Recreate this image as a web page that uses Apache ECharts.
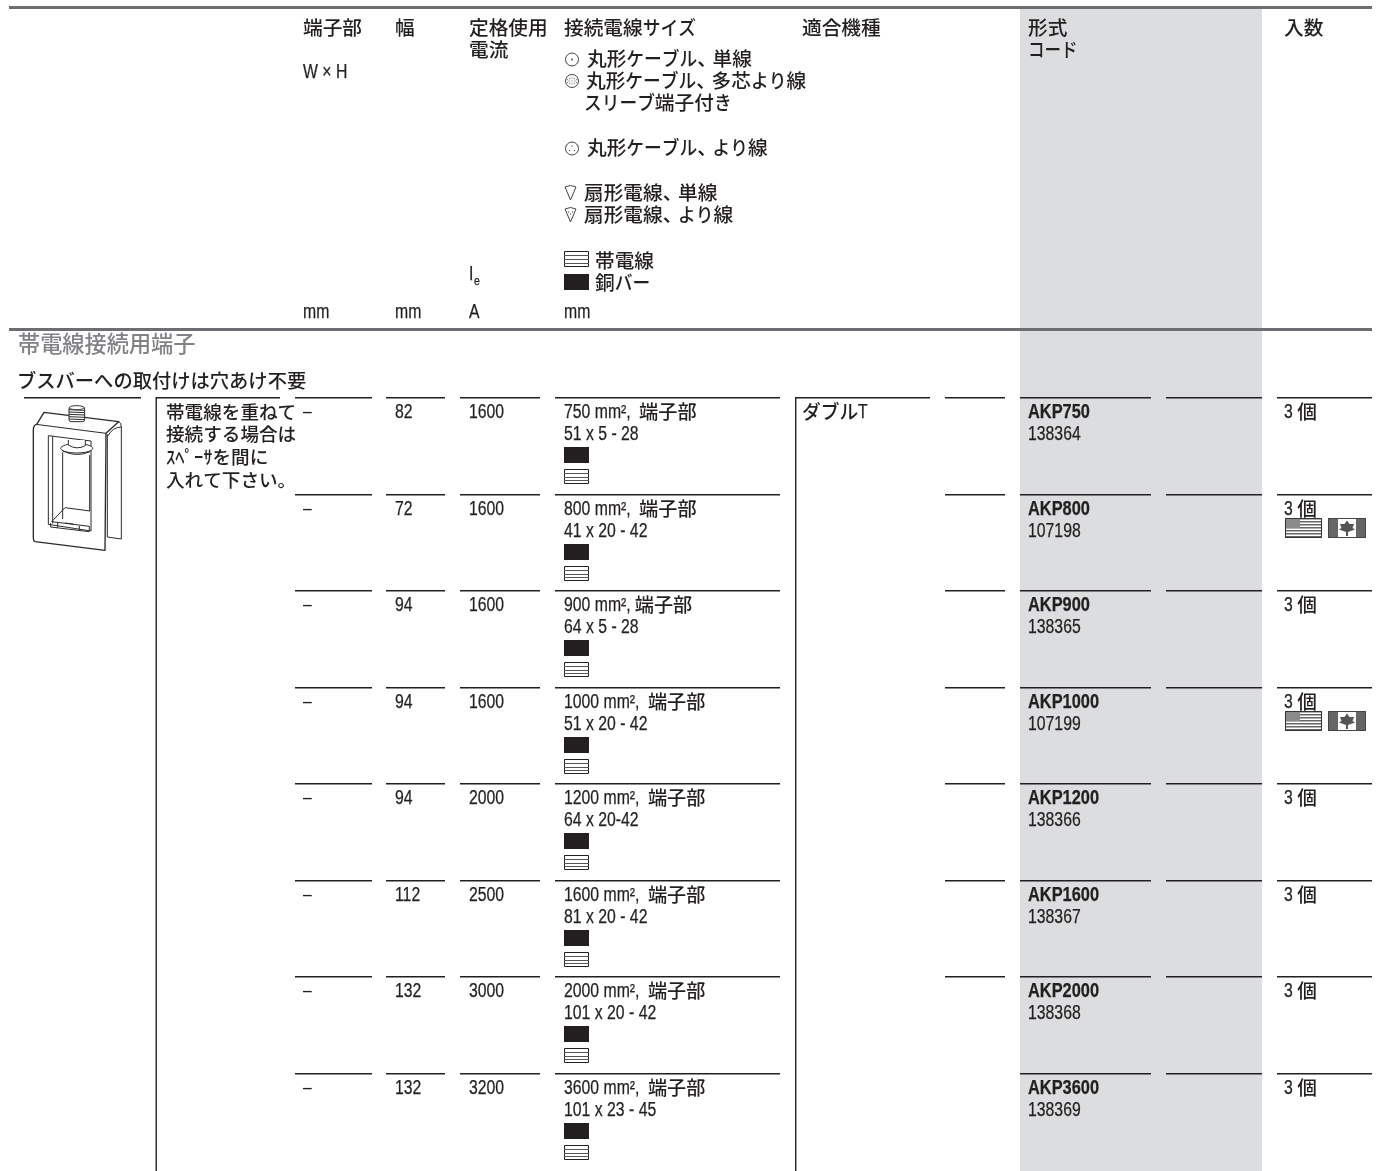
<!DOCTYPE html>
<html><head><meta charset="utf-8">
<style>html,body{margin:0;padding:0;background:#fff}#c{width:1378px;height:1171px}</style>
<script src="https://cdn.jsdelivr.net/npm/echarts@6/dist/echarts.min.js"></script>
</head><body><div id="c"></div>
<script>
// ---- table data ----
const models = ['AKP750','AKP800','AKP900','AKP1000','AKP1200','AKP1600','AKP2000','AKP3600'];
const codes = ['138364','107198','138365','107199','138366','138367','138368','138369'];
const terminalWH = ['–','–','–','–','–','–','–','–'];
const widths = ['82','72','94','94','94','112','132','132'];
const currents = ['1600','1600','1600','1600','2000','2500','3000','3200'];
const sizeLine1 = ['750 mm², 端子部','800 mm², 端子部','900 mm²,端子部','1000 mm², 端子部','1200 mm², 端子部','1600 mm², 端子部','2000 mm², 端子部','3600 mm², 端子部'];
const sizeLine2 = ['51 x 5 - 28','41 x 20 - 42','64 x 5 - 28','51 x 20 - 42','64 x 20-42','81 x 20 - 42','101 x 20 - 42','101 x 23 - 45'];
const quantities = ['3 個','3 個','3 個','3 個','3 個','3 個','3 個','3 個'];
const hasFlags = [false,true,false,true,false,false,false,false];
const fitFirstRow = 'ダブルT';
const noteLines = ['帯電線を重ねて','接続する場合は','ｽﾍﾟｰｻを間に','入れて下さい。'];
const sectionTitle = '帯電線接続用端子';
const sectionSub = 'ブスバーへの取付けは穴あけ不要';

// ---- styling ----
const INK = '#231f20', SIZE = 19.5, CJKSIZE = 19.7, NARROW = 0.81;
const LATIN = "'Liberation Sans',sans-serif", CJK = "'Noto Sans CJK JP',sans-serif";
const mctx = document.createElement('canvas').getContext('2d');
function mw(s, font){ mctx.font = font; return mctx.measureText(s).width; }

const LATIN_CHARS = '\\x20-\\x7e²×–';
const RUN_RE = new RegExp('['+LATIN_CHARS+']+|、|[\\u3040-\\u30ff]+|[^'+LATIN_CHARS+'、\\u3040-\\u30ff]+','g');
const LATIN_RE = new RegExp('^['+LATIN_CHARS+']');
function mix(x, y, s, o) {
  o = o||{};
  const fill = o.fill||INK, out = [];
  const cs = o.cjkSize||CJKSIZE, ls = o.size||SIZE, sx = o.narrow||NARROW, kana = o.kana||1;
  const runs = s.match(RUN_RE)||[];
  let cx = x;
  runs.forEach(r=>{
    if (LATIN_RE.test(r)) {
      const f = (o.bold?'bold ':'')+ls+'px '+LATIN;
      out.push({type:'text',x:cx,y:y+1,scaleX:sx,silent:true,style:{text:r,fill,font:f,verticalAlign:'middle',align:'left',stroke:r==='–'?null:fill,lineWidth:r==='–'?0:.25}});
      cx += mw(r,f)*sx;
      if (r.indexOf('²')>=0) cx += 4;
    } else {
      const f = '500 '+cs+'px '+CJK;
      const isKana = /^[\u3040-\u30ff]/.test(r), k = isKana ? kana : 1;
      out.push({type:'text',x:cx,y,scaleX:k,silent:true,style:{text:r,fill,font:f,verticalAlign:'middle',align:'left'}});
      cx += r==='、' ? cs*0.78 : mw(r,f)*k;
    }
  });
  return out;
}
function R(x, y, w, h, fill, stroke, lw) {
  return {type:'rect', silent:true, shape:{x,y,width:w,height:h}, style:{fill:fill||'none', stroke:stroke||null, lineWidth:lw||0}};
}
function stripes(x, y, w, h) {
  const out = [R(x+.5,y+.5,w-1,h-1,'#fff',INK,1)];
  for (let i=1;i<4;i++) { const yy = Math.round(y+i*h/4)+.5;
    out.push({type:'line',silent:true,shape:{x1:x,y1:yy,x2:x+w,y2:yy},style:{stroke:'#555',lineWidth:1}}); }
  return out;
}
function dots(cx, cy, pts, col) {
  return pts.map(p=>({type:'circle',silent:true,shape:{cx:cx+p[0],cy:cy+p[1],r:.7},style:{fill:col||'#555'}}));
}
function usFlag(x,y){ const g=[R(x,y,37,20,'#fff')];
  for(let i=0;i<7;i++) g.push(R(x,y+i*3,37,1.4,'#666'));
  g.push(R(x,y,15,10,'#8a8a8a'));
  g.push(R(x+.5,y+.5,36,19,'none','#333',1)); return g; }
function caFlag(x,y){ return [R(x,y,38,20,'#fff'),R(x,y,10,20,'#666'),R(x+28,y,10,20,'#666'),
  {type:'polygon',silent:true,shape:{points:[[x+19,y+2.5],[x+21.5,y+6],[x+26,y+6],[x+24.5,y+10],[x+27,y+11.5],[x+20,y+14],[x+20,y+18],[x+18,y+18],[x+18,y+14],[x+11,y+11.5],[x+13.5,y+10],[x+12,y+6],[x+16.5,y+6]]},style:{fill:'#555'}},
  R(x+.5,y+.5,37,19,'none','#444',1)]; }

const segAll = [[295,372],[386,445],[460,540],[555,780],[1020,1151],[1166,1262],[1277,1372]];
const segNotLast = [[945,1005]];
const segFirst = [[24,141],[156,280],[795,930]];

function renderRow(params, api) {
  const i = params.dataIndex;
  const top = Math.floor(api.coord([0, api.value(1)])[1]);
  const kids = [];
  let segs = segAll.slice();
  if (i < models.length-1) segs = segs.concat(segNotLast);
  if (i === 0) segs = segs.concat(segFirst);
  segs.forEach(s => kids.push(R(s[0], top, s[1]-s[0], 1.4, INK)));
  const y1 = top+15, y2 = top+37;
  kids.push(...mix(303,y1,terminalWH[i]));
  kids.push(...mix(395,y1,widths[i]));
  kids.push(...mix(469,y1,currents[i]));
  kids.push(...mix(564,y1,sizeLine1[i],{cjkSize:19.2}));
  kids.push(...mix(564,y2,sizeLine2[i]));
  kids.push(...mix(1028,y1,models[i],{bold:true,narrow:0.84}));
  kids.push(...mix(1028,y2,codes[i]));
  kids.push(...mix(1284,y1,quantities[i]));
  if (i===0) kids.push(...mix(802,y1,fitFirstRow,{kana:.95}));
  kids.push(R(564,top+50,25,16,INK));
  kids.push(...stripes(564,top+72,25,15));
  if (hasFlags[i]) { kids.push(...usFlag(1285,top+24)); kids.push(...caFlag(1328,top+24)); }
  return {type:'group', children:kids};
}

// ---- header / static parts ----
function renderStatic() {
  const hdr = [];
  const LEG = {kana:.9};
  hdr.push(R(1020,9,242,1162,'#dcddde'));
  [['端子部',303],['幅',395],['定格使用',469],['接続電線サイズ',564],['適合機種',802],['形式',1028],['入数',1284]].forEach(a=>hdr.push(...mix(a[1],28,a[0],LEG)));
  hdr.push(...mix(469,50,'電流'));
  hdr.push(...mix(1028,50,'コード',{kana:.84}));
  hdr.push(...mix(303,72,'W × H'));
  [['丸形ケーブル、単線',587,59],['丸形ケーブル、多芯より線',586,81],['スリーブ端子付き',584,103],['丸形ケーブル、より線',587,148],['扇形電線、単線',584,193],['扇形電線、より線',584,215],['帯電線',595,261],['銅バー',595,283]]
    .forEach(a=>hdr.push(...mix(a[1],a[2],a[0],LEG)));
  hdr.push(...mix(469,274,'I'));
  hdr.push(...mix(474,280,'e',{size:13}));
  [['mm',303],['mm',395],['A',469],['mm',564]].forEach(a=>hdr.push(...mix(a[1],312,a[0])));
  hdr.push(...mix(18,344,sectionTitle,{fill:'#808285',cjkSize:22.2}));
  hdr.push(...mix(17,381,sectionSub,{cjkSize:19.3}));
  noteLines.forEach((s,i)=>hdr.push(...mix(166,[412,434,457,480][i],s,{cjkSize:18.6})));
  // legend icons
  const C = {stroke:'#444',lineWidth:1,fill:'#fff'};
  hdr.push({type:'circle',silent:true,shape:{cx:572,cy:59.5,r:6.5},style:C});
  hdr.push({type:'circle',silent:true,shape:{cx:572,cy:59.5,r:.9},style:{fill:'#444'}});
  hdr.push({type:'circle',silent:true,shape:{cx:572,cy:81,r:6.5},style:C});
  hdr.push(...dots(572,81,[[0,0],[-3,0],[3,0],[0,-3],[0,3],[-2.3,-2.3],[2.3,-2.3],[-2.3,2.3],[2.3,2.3],[-4.6,-1.5],[4.6,-1.5],[-4.6,1.5],[4.6,1.5]],'#888'));
  hdr.push({type:'circle',silent:true,shape:{cx:572,cy:148.5,r:6.5},style:C});
  hdr.push(...dots(572,148.5,[[0,-2.5],[-2.5,2],[2.5,2]]));
  const fan = cy=>({type:'polygon',silent:true,shape:{points:[[565,cy-6],[570.5,cy-7.5],[576,cy-6],[570.5,cy+7]]},style:C});
  hdr.push(fan(193)); hdr.push(fan(215));
  hdr.push(...dots(570.5,215,[[-2,-3],[2,-3],[0,-1]]));
  hdr.push(...stripes(564,251,25,16));
  hdr.push(R(564,274,25,16,INK));
  // rules
  hdr.push(R(9,6,1363,3,'#6d6e71'));
  hdr.push(R(9,328,1363,3,'#6d6e71'));
  hdr.push(R(155.5,397,1.4,774,INK));
  hdr.push(R(795,397,1.4,774,INK));
  // product drawing
  const S = {stroke:'#2b2b2b',lineWidth:3,lineJoin:'round'};
  const L = (pts,cl)=>({type:'polyline',silent:true,shape:{points:pts},style:Object.assign({fill:cl||'none'},S)});
  const P = (d,cl,lw)=>({type:'path',silent:true,shape:{pathData:d},style:Object.assign({fill:cl||'none'},S,lw?{lineWidth:lw}:{})});
  const drawing = {type:'group',x:20,y:395,scaleX:1/3,scaleY:1/3,silent:true,children:[
    P('M258 115 Q272 84 296 80 Q304 82 304 96 L304 432 L262 426 L262 118','#fff'),
    P('M262 125 Q278 96 304 96'),
    P('M40 105 Q40 90 50 88 L72 52 L296 80 L258 115 L255 466 L45 440 Q40 438 40 430 Z','#fff',4),
    L([[48,88],[258,115]]),
    L([[85,122],[213,138],[213,408],[85,388],[85,122]],'#fff'),
    L([[98,124],[98,385]]),
    L([[128,172],[128,372]]),
    L([[209,180],[209,348]]),
    {type:'ellipse',silent:true,shape:{cx:170,cy:160,rx:48,ry:14},style:Object.assign({fill:'#fff'},S)},
    P('M128 168 Q170 188 210 170'),
    P('M145 135 L145 150 Q170 166 196 152 L196 135','#fff'),
    L([[95,380],[135,338],[210,348]]),
    L([[95,380],[208,394],[208,408]]),
    L([[92,384],[92,396],[208,410]]),
    L([[178,393],[178,406]]),L([[113,384],[113,398]]),
    L([[135,384],[160,387]]),
    {type:'rect',silent:true,shape:{x:147,y:36,width:47,height:44,r:6},style:Object.assign({fill:'#fff'},S)},
    ...[44,51,58,65,72].map(y=>L([[147,y],[194,y+2]])),
    {type:'ellipse',silent:true,shape:{cx:170,cy:38,rx:22,ry:6},style:Object.assign({fill:'#fff'},S)}
  ]};
  hdr.push(drawing);
  return {type:'group',children:hdr};
}

const chart = echarts.init(document.getElementById('c'), null, {renderer:'canvas'});
chart.setOption({
  animation:false,
  backgroundColor:'#fff',
  grid:{left:0,right:0,top:0,bottom:0},
  xAxis:{type:'value',min:0,max:1378,show:false},
  yAxis:{type:'value',min:0,max:1171,inverse:true,show:false},
  series:[
    {type:'custom',clip:false,silent:true,z:1,data:[[0,0]],encode:{x:0,y:1},renderItem:renderStatic},
    {type:'custom',clip:false,silent:true,z:5,
      data:models.map((m,i)=>[0,397.5+i*96.5]),encode:{x:0,y:1},renderItem:renderRow}
  ]
});
</script></body></html>
